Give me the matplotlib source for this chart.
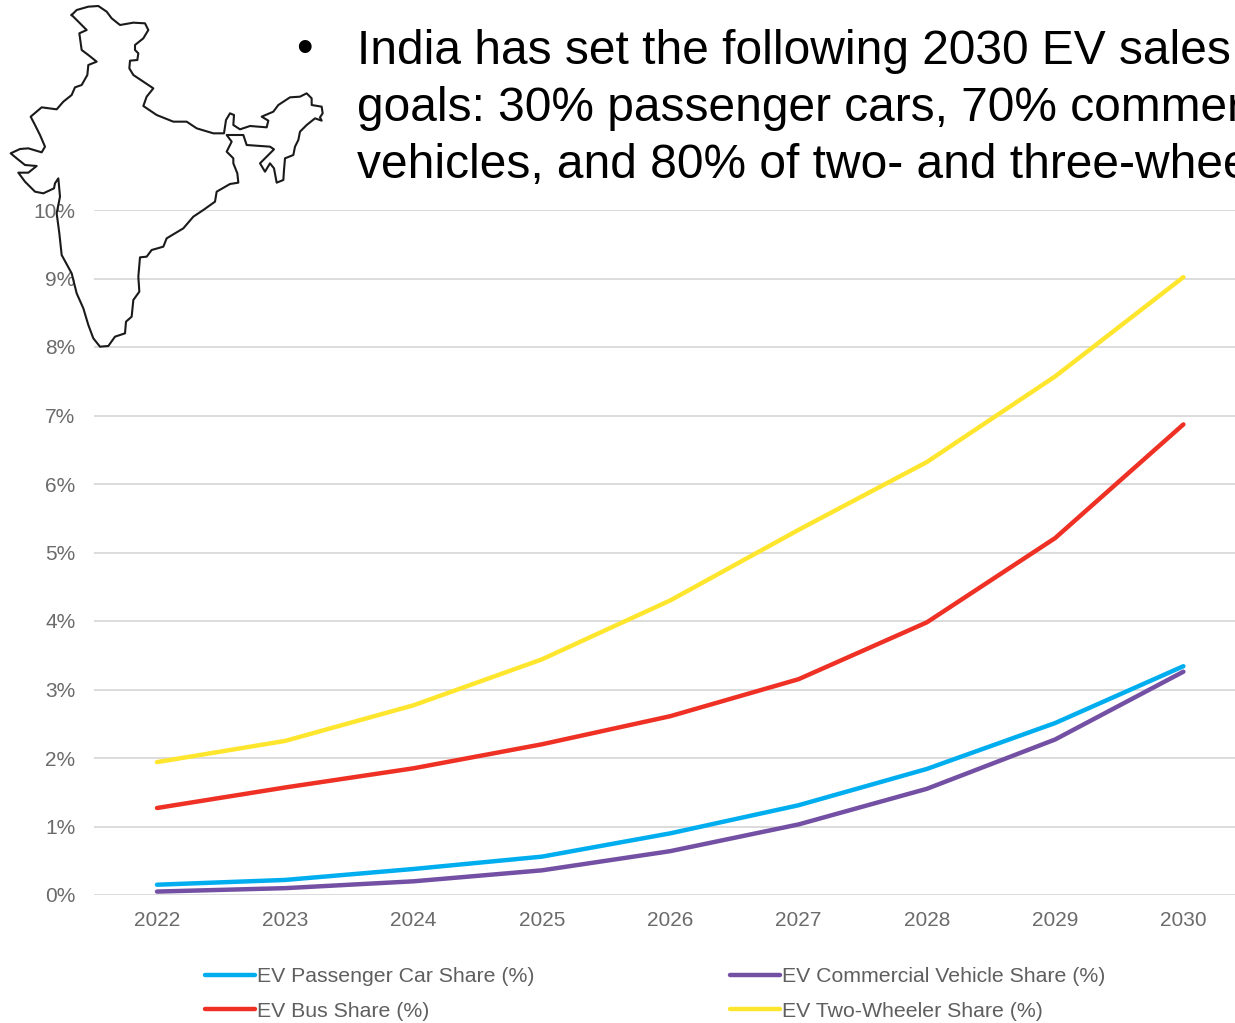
import matplotlib
matplotlib.use("Agg")
import matplotlib.pyplot as plt
from matplotlib.lines import Line2D
from matplotlib.ticker import FuncFormatter

plt.rcParams['font.family'] = ['Liberation Sans', 'DejaVu Sans']

years = [2022, 2023, 2024, 2025, 2026, 2027, 2028, 2029, 2030]
car_share = [0.15, 0.22, 0.38, 0.56, 0.90, 1.31, 1.84, 2.51, 3.34]
cv_share = [0.05, 0.10, 0.20, 0.36, 0.64, 1.03, 1.55, 2.27, 3.26]
bus_share = [1.27, 1.57, 1.85, 2.20, 2.61, 3.15, 3.98, 5.21, 6.87]
two_wheeler_share = [1.94, 2.25, 2.77, 3.44, 4.30, 5.33, 6.32, 7.57, 9.02]
series_labels = ['EV Passenger Car Share (%)', 'EV Bus Share (%)',
                 'EV Commercial Vehicle Share (%)', 'EV Two-Wheeler Share (%)']
text_lines = ['India has set the following 2030 EV sales',
              'goals: 30% passenger cars, 70% commer',
              'vehicles, and 80% of two- and three-whee']

india_x = [215,230,265,295,320,335,360,400,435,445,430,405,405,415,412,390,388,400,430,460,440,430,470,520,560,590,640,672,678,690,702,700,720,750,800,805,785,820,835,870,900,920,935,935,965,968,960,965,945,920,900,895,885,880,855,852,850,830,822,810,795,780,800,822,810,740,730,700,680,695,680,700,700,712,715,690,650,645,610,580,550,500,490,455,440,420,415,418,400,395,378,375,345,325,300,280,265,250,230,215,185,178,170,180,175,165,162,130,105,75,55,85,110,75,50,32,60,85,125,135,120,105,92,125,170,190,215,225,245,262,265,290,265,245,238,260,240,215]
india_y = [45,30,20,18,35,55,75,68,70,90,115,135,150,160,180,182,205,225,245,265,290,318,345,365,365,385,400,400,360,340,345,375,388,378,382,362,350,335,315,292,290,280,295,315,320,340,352,362,355,375,395,420,440,465,475,510,540,548,505,490,515,490,470,448,440,435,405,405,405,425,455,475,490,520,548,552,575,605,630,650,685,715,740,750,770,772,830,875,900,950,965,1000,1010,1038,1040,1015,975,925,880,820,765,700,640,590,535,550,565,580,575,545,518,518,498,495,475,460,447,445,457,440,405,375,350,322,328,305,285,262,255,225,195,185,165,150,100,90,70,45]

W, H = 1235, 1023
fig = plt.figure(figsize=(W / 100, H / 100), dpi=100, facecolor='white')
ax = fig.add_axes([94 / W, 1 - 895 / H, (W - 94) / W, (895 - 210) / H])
ax.set_ylim(0, 10)
ax.set_xlim(2022 - 63 / 128.3, 2022 + (W - 157) / 128.3)
ax.set_facecolor('none')

ax.plot(years, car_share, color='#00AEEF', lw=3.2, label=series_labels[0], solid_capstyle='round')
ax.plot(years, cv_share, color='#7350A3', lw=3.2, label=series_labels[2], solid_capstyle='round')
ax.plot(years, bus_share, color='#EE3124', lw=3.2, label=series_labels[1], solid_capstyle='round')
ax.plot(years, two_wheeler_share, color='#FFE62E', lw=3.2, label=series_labels[3], solid_capstyle='round')

ax.set_xticks(years)
ax.set_yticks(range(0, 11))
ax.yaxis.set_major_formatter(FuncFormatter(lambda v, _: f'{int(v)}%'))
ax.tick_params(axis='both', length=0, labelsize=15, labelcolor='#6b6b6b')
ax.tick_params(axis='x', pad=11.5)
ax.tick_params(axis='y', pad=13.5)
ax.grid(axis='y', color='#dcdcdc', lw=1.4)
ax.set_axisbelow(True)
for s in ax.spines.values():
    s.set_visible(False)

handles = {l.get_label(): l for l in ax.get_lines()}
leg = fig.legend([handles[n] for n in series_labels], series_labels, ncol=2,
                 loc='lower left', bbox_to_anchor=(186 / W, 1 - 1040 / H),
                 bbox_transform=fig.transFigure, frameon=False, fontsize=15.3,
                 labelcolor='#5f5f5f', handlelength=2.35, handletextpad=0.1,
                 columnspacing=9.2, labelspacing=0.74)

# India outline (traced in a 3x crop of the reference)
fig.add_artist(Line2D([x / 3 / W for x in india_x], [1 - y / 3 / H for y in india_y],
                      transform=fig.transFigure, color='#1a1a1a', lw=1.5, zorder=5))

# Bullet text, cut at the right edge as in the reference
fig.text(296 / W, 1 - 50 / H, '•', fontsize=34, color='black', va='center', ha='left')
for i, line in enumerate(text_lines):
    fig.text(357 / W, 1 - (51 + 57.3 * i) / H, line, fontsize=34.5, color='black',
             va='center', ha='left')

fig.savefig('out.png', dpi=100, facecolor='white')
